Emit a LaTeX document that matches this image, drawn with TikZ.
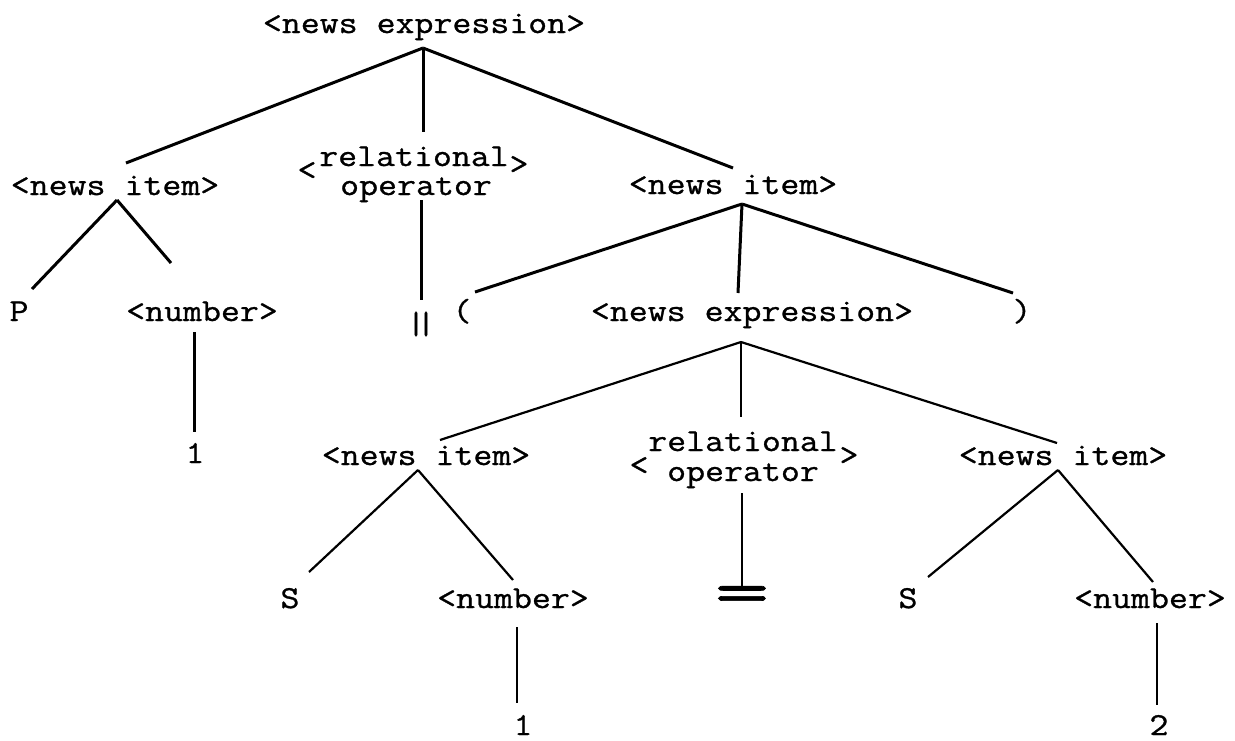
\documentclass[tikz,border=0pt]{standalone}
\usepackage{fontspec}
\usepackage{graphicx}
\newfontfamily\tw[FakeStretch=1.15,FakeBold=0.9]{Latin Modern Mono}
\usetikzlibrary{calc}
\begin{document}
\begin{tikzpicture}[x=1pt,y=-1pt,
  lbl/.style={anchor=base,inner sep=0pt,outer sep=0pt,font=\tw\fontsize{32}{36}\selectfont},
  sym/.style={anchor=center,inner sep=0pt,outer sep=0pt,font=\tw\fontsize{32}{36}\selectfont},
  thickedge/.style={line width=3pt},
  thinedge/.style={line width=2.2pt}]
\useasboundingbox (0,0) rectangle (1235,740);
% nodes
\node[lbl] (root) at (424,33) {<news expression>};
\node[lbl] (ni1) at (115,195) {<news item>};
\node[lbl] (rel1a) at (414,166) {relational};
\node[lbl] (rel1b) at (416,195) {operator};
\node[sym] (rel1l) at (307,171) {<};
\node[sym] (rel1r) at (519,165) {>};
\node[lbl] (ni2) at (733,194) {<news item>};
\node[lbl] (P) at (19,321) {P};
\node[lbl] (num1) at (202,321) {<number>};
\node[sym] (bar) at (421,324) {|\kern-9pt|};
\node[lbl] (lpar) at (462,321) {(};
\node[lbl] (ne2) at (752,321) {<news expression>};
\node[lbl] (rpar) at (1022,321) {)};
\node[lbl] (one1) at (195,463) {1};
\node[lbl] (ni3) at (426,465) {<news item>};
\node[lbl] (rel2a) at (743,451) {relational};
\node[lbl] (rel2b) at (743,481) {operator};
\node[sym] (rel2l) at (639,466) {<};
\node[sym] (rel2r) at (849,456) {>};
\node[lbl] (ni4) at (1063,465) {<news item>};
\node[lbl] (S1) at (290,608) {S};
\node[lbl] (num2) at (513,608) {<number>};
\node[sym] (eq) at (742,600) {\scalebox{2.9}[2.1]{=}};
\node[lbl] (S2) at (908,608) {S};
\node[lbl] (num3) at (1150,608) {<number>};
\node[lbl] (one2) at (523,735) {1};
\node[lbl] (two) at (1159,735) {2};
% branching points
\coordinate (rootA) at ($(root.base)+(-1,15)$);
\coordinate (ni1A) at ($(ni1.base)+(2,5)$);
\coordinate (ni2A) at ($(ni2.base)+(9,10)$);
\coordinate (ne2A) at ($(ne2.base)+(-11,21)$);
\coordinate (ni3A) at ($(ni3.base)+(-8,5)$);
\coordinate (ni4A) at ($(ni4.base)+(-5,5)$);
% upper tree
\draw[thickedge] (rootA) -- ($(ni1.base)+(11,-32)$);
\draw[thickedge] (rootA) -- ($(rel1a.base)+(9,-34)$);
\draw[thickedge] (rootA) -- ($(ni2.base)+(0,-26)$);
\draw[thickedge] (ni1A) -- ($(P.base)+(13,-32)$);
\draw[thickedge] (ni1A) -- ($(num1.base)+(-31,-58)$);
\draw[thickedge] ($(rel1b.base)+(5,5)$) -- ($(bar.center)+(0,-24)$);
\draw[thickedge] ($(num1.base)+(-8,11)$) -- ($(one1.base)+(-1,-31)$);
\draw[thickedge] (ni2A) -- ($(lpar.base)+(13,-29)$);
\draw[thickedge] (ni2A) -- ($(ne2.base)+(-14,-28)$);
\draw[thickedge] (ni2A) -- ($(rpar.base)+(-9,-28)$);
% lower tree
\draw[thinedge] (ne2A) -- ($(ni3.base)+(14,-25)$);
\draw[thinedge] (ne2A) -- ($(rel2a.base)+(-2,-34)$);
\draw[thinedge] (ne2A) -- ($(ni4.base)+(-6,-22)$);
\draw[thinedge] (ni3A) -- ($(S1.base)+(19,-36)$);
\draw[thinedge] (ni3A) -- ($(num2.base)+(0,-28)$);
\draw[thinedge] ($(rel2b.base)+(-1,12)$) -- ($(eq.center)+(0,-13)$);
\draw[thinedge] (ni4A) -- ($(S2.base)+(20,-31)$);
\draw[thinedge] (ni4A) -- ($(num3.base)+(3,-26)$);
\draw[thinedge] ($(num2.base)+(4,19)$) -- ($(one2.base)+(-6,-32)$);
\draw[thinedge] ($(num3.base)+(7,15)$) -- ($(two.base)+(-2,-30)$);
\end{tikzpicture}
\end{document}
